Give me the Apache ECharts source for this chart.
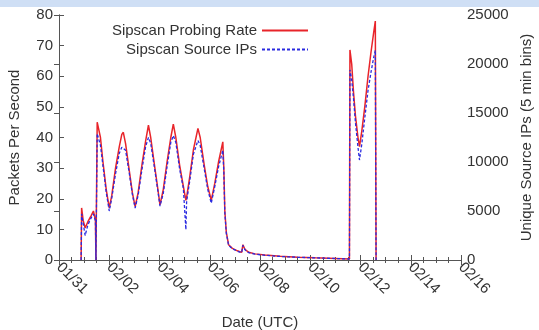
<!DOCTYPE html>
<html lang="en">
<head>
  <meta charset="UTF-8">
  <title>Sipscan</title>
  <script src="https://cdn.jsdelivr.net/npm/echarts@6.0.0/dist/echarts.min.js"></script>
  <style>
    body { margin: 0; background: #fff; }
  </style>
</head>
<body>
  <div id="main" style="width: 539px;height:330px;"></div>

  <script type="text/javascript">
    // x tick labels, one every 2 days starting at 01/31
    let dateLabels = ['01/31', '02/02', '02/04', '02/06', '02/08', '02/10', '02/12', '02/14', '02/16'];

    // time in days since 01/31 00:00 UTC
    let days = [
      0.88, 0.90, 0.96, 1.04, 1.15, 1.28, 1.37, 1.45, 1.47, 1.52,
      1.57, 1.65, 1.75, 1.88, 2.00, 2.10, 2.25, 2.40, 2.50, 2.56,
      2.65, 2.80, 2.92, 3.03, 3.15, 3.30, 3.45, 3.56, 3.65, 3.80,
      3.92, 4.02, 4.15, 4.30, 4.45, 4.55, 4.65, 4.80, 4.95, 5.05,
      5.08, 5.20, 5.35, 5.53, 5.62, 5.78, 5.92, 6.06, 6.20, 6.35,
      6.52, 6.56, 6.60, 6.66, 6.75, 6.90, 7.10, 7.27, 7.32, 7.40,
      7.55, 7.80, 8.20, 8.80, 9.50, 10.20, 11.00, 11.56, 11.58, 11.65,
      11.72, 11.80, 11.90, 11.96, 12.05, 12.17, 12.30, 12.42, 12.52, 12.59,
      12.62
    ];

    // packets per second (left axis)
    let probeRate = [
      0, 17, 13, 10.5, 12.5, 14.5, 16, 13, 0, 45,
      45.2, 40, 32, 23, 17, 21, 30, 37, 41, 41.7,
      38, 29, 22, 17.4, 22, 31, 39, 44, 40, 31,
      24, 18, 23, 32, 40, 44.4, 40, 31, 24, 19.5,
      20.5, 27, 36, 43, 40, 31, 24, 19.5, 25, 32,
      38.6, 30, 16, 9, 5, 3.8, 3, 2.5, 5, 3.5,
      2.5, 2, 1.6, 1.2, 0.9, 0.7, 0.5, 0.3, 68.6, 64,
      55, 47, 40, 37, 42, 50, 60, 68, 74, 78,
      0
    ];

    // unique source IPs per 5 min bin (right axis)
    let sourceIPs = [
      0, 4700, 3800, 2500, 3600, 4300, 4700, 4000, 0, 12900,
      12950, 11700, 9600, 6900, 5000, 6300, 8800, 10900, 11500, 11500,
      11200, 8800, 6700, 5300, 6600, 9200, 11600, 12500, 11900, 9400,
      7300, 5500, 6800, 9500, 12000, 12700, 12000, 9300, 7300, 3100,
      6000, 8000, 10800, 12200, 11700, 9300, 7200, 5800, 7500, 9500,
      11200, 9000, 4800, 2700, 1500, 1150, 900, 750, 1500, 1050,
      750, 600, 480, 360, 280, 220, 150, 100, 19400, 18400,
      16500, 14000, 11500, 10200, 11800, 14500, 17300, 19200, 20600, 21400,
      0
    ];

    let myChart = echarts.init(document.getElementById('main'));

    let font = 'Liberation Sans';
    let axisColor = '#555';
    let textColor = '#333';

    let xCommon = {
      type: 'value',
      min: 0,
      max: 16,
      interval: 2,
      axisLine: { lineStyle: { color: axisColor, width: 1 } },
      axisTick: { inside: true, length: 5, lineStyle: { color: axisColor } },
      minorTick: { show: true, splitNumber: 4, length: 3, lineStyle: { color: axisColor } },
      splitLine: { show: false }
    };

    let options = {
      animation: false,
      graphic: [{
        type: 'rect',
        shape: { x: 0, y: 0, width: 539, height: 7 },
        style: { fill: '#cfdff5' }
      }],
      legend: {
        orient: 'vertical',
        right: 225,
        top: 18,
        align: 'right',
        itemGap: 4,
        itemWidth: 46,
        itemHeight: 14,
        itemStyle: { opacity: 0 },
        textStyle: { fontFamily: font, fontSize: 15, color: textColor },
        data: ['Sipscan Probing Rate', 'Sipscan Source IPs']
      },
      grid: { left: 59, right: 78, top: 15, bottom: 70, containLabel: false, outerBoundsMode: 'none' },
      xAxis: [
        Object.assign({}, xCommon, {
          position: 'bottom',
          name: 'Date (UTC)',
          nameLocation: 'middle',
          nameGap: 55,
          nameTextStyle: { fontFamily: font, fontSize: 15, color: textColor },
          axisLabel: {
            rotate: -45,
            margin: 5,
            fontFamily: font,
            fontSize: 15,
            color: textColor,
            formatter: (v) => dateLabels[Math.round(v / 2)]
          }
        }),
        Object.assign({}, xCommon, {
          position: 'top',
          axisLabel: { show: false }
        })
      ],
      yAxis: [
        {
          type: 'value',
          min: 0,
          max: 80,
          interval: 10,
          position: 'left',
          name: 'Packets Per Second',
          nameLocation: 'middle',
          nameGap: 37,
          nameTextStyle: { fontFamily: font, fontSize: 15, color: textColor },
          axisLine: { show: true, lineStyle: { color: axisColor } },
          axisTick: { show: true, inside: true, length: 5, lineStyle: { color: axisColor } },
          axisLabel: { fontFamily: font, fontSize: 15, color: textColor, margin: 6 },
          splitLine: { show: false }
        },
        {
          type: 'value',
          min: 0,
          max: 25000,
          interval: 5000,
          position: 'right',
          name: 'Unique Source IPs (5 min bins)',
          nameLocation: 'middle',
          nameGap: 54,
          nameRotate: 90,
          nameTextStyle: { fontFamily: font, fontSize: 15, color: textColor },
          axisLine: { show: true, lineStyle: { color: axisColor } },
          axisTick: { show: true, inside: true, length: 5, lineStyle: { color: axisColor } },
          axisLabel: { fontFamily: font, fontSize: 15, color: textColor, margin: 6, formatter: (v) => String(v) },
          splitLine: { show: false }
        }
      ],
      series: [
        {
          name: 'Sipscan Probing Rate',
          type: 'line',
          xAxisIndex: 0,
          yAxisIndex: 0,
          symbol: 'none',
          lineStyle: { color: '#e8242a', width: 1.5 },
          itemStyle: { color: '#e8242a' },
          data: days.map((d, i) => [d, probeRate[i]])
        },
        {
          name: 'Sipscan Source IPs',
          type: 'line',
          xAxisIndex: 0,
          yAxisIndex: 1,
          symbol: 'none',
          lineStyle: { color: '#2a2ae0', width: 1.3, type: [3, 2] },
          itemStyle: { color: '#2a2ae0' },
          data: days.map((d, i) => [d, sourceIPs[i]])
        }
      ]
    };

    myChart.setOption(options);
  </script>
</body>
</html>
